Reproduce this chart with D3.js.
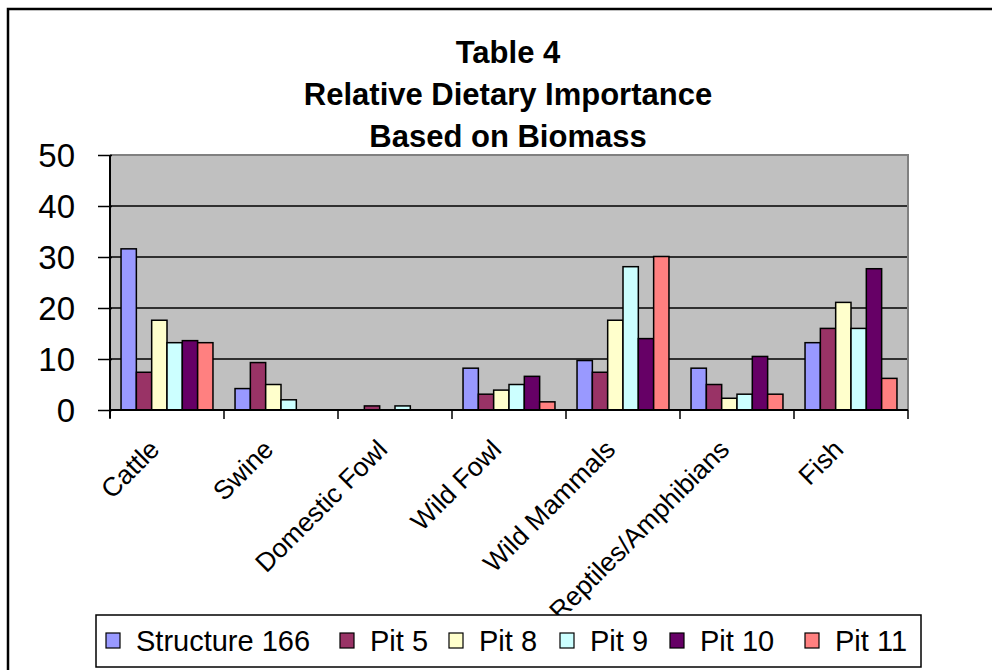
<!DOCTYPE html>
<html>
<head>
<meta charset="utf-8">
<script src="https://cdn.jsdelivr.net/npm/d3@7"></script>
<style>
  html, body { margin: 0; padding: 0; background: #fff; }
  svg { display: block; }
  text { font-family: "Liberation Sans", Arial, sans-serif; fill: #000; }
</style>
</head>
<body>
<svg id="chart" width="992" height="670"></svg>
<script>
const categories = ["Cattle", "Swine", "Domestic Fowl", "Wild Fowl", "Wild Mammals", "Reptiles/Amphibians", "Fish"];
const seriesNames = ["Structure 166", "Pit 5", "Pit 8", "Pit 9", "Pit 10", "Pit 11"];
const structure166 = [31.6, 4.2, 0, 8.2, 9.7, 8.2, 13.2];
const pit5 = [7.4, 9.3, 0.8, 3.1, 7.4, 5.0, 16.0];
const pit8 = [17.6, 5.0, 0, 3.9, 17.6, 2.3, 21.1];
const pit9 = [13.2, 2.0, 0.8, 5.0, 28.1, 3.1, 16.0];
const pit10 = [13.6, 0, 0, 6.6, 14.0, 10.5, 27.7];
const pit11 = [13.2, 0, 0, 1.6, 30.1, 3.1, 6.2];
const yTicks = [0, 10, 20, 30, 40, 50];
const titleLines = ["Table 4", "Relative Dietary Importance", "Based on Biomass"];
const colors = ["#9999FF", "#993366", "#FFFFCC", "#CCFFFF", "#660066", "#FF8080"];

const seriesValues = [structure166, pit5, pit8, pit9, pit10, pit11];

const svg = d3.select("#chart");

// outer chart frame
svg.append("rect").attr("x", 8).attr("y", 9).attr("width", 1000).attr("height", 700)
  .attr("fill", "#fff").attr("stroke", "#000").attr("stroke-width", 2.5);

const plot = { left: 110, right: 908, top: 155, bottom: 410 };

const x0 = d3.scaleBand().domain(categories).range([plot.left, plot.right]).padding(0);
const x1 = d3.scaleBand().domain(seriesNames).range([0, x0.bandwidth()]).paddingInner(0).paddingOuter(0.72);
const y = d3.scaleLinear().domain([0, 50]).range([plot.bottom, plot.top]);

// plot background
svg.append("rect").attr("x", plot.left).attr("y", plot.top)
  .attr("width", plot.right - plot.left).attr("height", plot.bottom - plot.top)
  .attr("fill", "#C0C0C0");

// gridlines
svg.append("g").selectAll("line").data(yTicks.filter(t => t > 0 && t < 50)).join("line")
  .attr("x1", plot.left).attr("x2", plot.right)
  .attr("y1", d => y(d)).attr("y2", d => y(d))
  .attr("stroke", "#000").attr("stroke-width", 1.5);

// plot border top/right (gray)
svg.append("path")
  .attr("d", `M${plot.left},${y(50)}H${plot.right}V${plot.bottom}`)
  .attr("fill", "none").attr("stroke", "#808080").attr("stroke-width", 2);

// bars
const groups = svg.append("g").selectAll("g").data(categories).join("g")
  .attr("transform", d => `translate(${x0(d)},0)`);
groups.selectAll("rect").data((c, ci) => seriesNames.map((s, si) => ({ s, si, v: seriesValues[si][ci] })).filter(d => d.v > 0))
  .join("rect")
  .attr("x", d => x1(d.s)).attr("width", x1.bandwidth())
  .attr("y", d => y(d.v)).attr("height", d => y(0) - y(d.v))
  .attr("fill", d => colors[d.si]).attr("stroke", "#000").attr("stroke-width", 1.5);

// y axis
const yAxis = d3.axisLeft(y).tickValues(yTicks).tickSize(12).tickPadding(23);
const gy = svg.append("g").attr("transform", `translate(${plot.left},0)`).call(yAxis);
gy.select(".domain").attr("stroke", "#000").attr("stroke-width", 2).attr("d", `M0,${y(50)}V${y(0) + 8}`);
gy.selectAll(".tick line").attr("stroke", "#000").attr("stroke-width", 1.5).attr("x2", -12).attr("x1", 2);
gy.selectAll(".tick text").attr("font-size", 33).attr("font-family", "Liberation Sans, Arial, sans-serif").attr("fill", "#000").attr("dy", "0.36em");

// x axis line and ticks at category boundaries
svg.append("line").attr("x1", plot.left).attr("x2", plot.right).attr("y1", y(0)).attr("y2", y(0))
  .attr("stroke", "#000").attr("stroke-width", 2);
const bounds = categories.map(c => x0(c)).concat([x0(categories[categories.length - 1]) + x0.bandwidth()]);
svg.append("g").selectAll("line").data(bounds).join("line")
  .attr("x1", d => d).attr("x2", d => d).attr("y1", y(0)).attr("y2", y(0) + 9)
  .attr("stroke", "#000").attr("stroke-width", 1.5);

// x labels
svg.append("g").selectAll("text").data(categories).join("text")
  .attr("transform", d => `translate(${x0(d) + x0.bandwidth() / 2 - 6},${y(0) + 41}) rotate(-45)`)
  .attr("text-anchor", "end").attr("font-size", 26.5).text(d => d);

// title
svg.append("g").selectAll("text").data(titleLines).join("text")
  .attr("x", 508).attr("y", (d, i) => 63 + i * 42)
  .attr("text-anchor", "middle").attr("font-size", 31).attr("font-weight", "bold").text(d => d);

// legend
const legend = svg.append("g");
legend.append("rect").attr("x", 96).attr("y", 615).attr("width", 825).attr("height", 52)
  .attr("fill", "#fff").attr("stroke", "#000").attr("stroke-width", 1.5);
const legendX = [106, 340, 449, 560, 670, 805];
const items = legend.selectAll("g.item").data(seriesNames).join("g").attr("class", "item")
  .attr("transform", (d, i) => `translate(${legendX[i]},633)`);
items.append("rect").attr("width", 14).attr("height", 15)
  .attr("fill", (d, i) => colors[i]).attr("stroke", "#000").attr("stroke-width", 1.2);
items.append("text").attr("x", 30).attr("y", 18).attr("font-size", 29).text(d => d);
</script>
</body>
</html>
